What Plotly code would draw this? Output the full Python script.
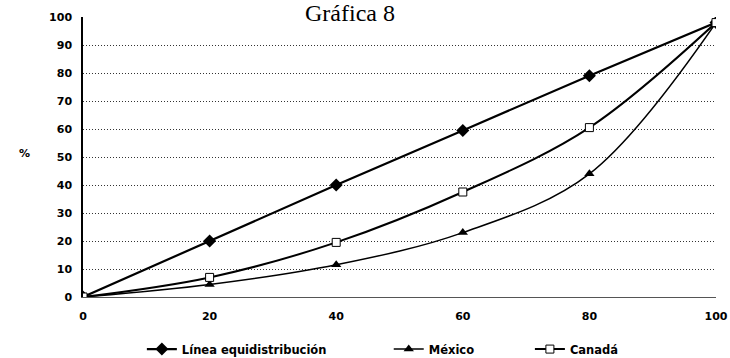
import plotly.graph_objects as go

x_vals = [0, 20, 40, 60, 80, 100]
linea = [0, 20, 40, 59.5, 79, 98]
mexico = [0, 4.5, 11.5, 23, 44, 98]
canada = [0, 7, 19.5, 37.5, 60.5, 98]
series_names = ["Línea equidistribución", "México", "Canadá"]
y_ticks = [0, 10, 20, 30, 40, 50, 60, 70, 80, 90, 100]
x_ticks = [0, 20, 40, 60, 80, 100]

fig = go.Figure()
fig.add_trace(go.Scatter(x=x_vals, y=linea, name=series_names[0], mode="lines+markers",
                         line=dict(color="black", width=2.2),
                         marker=dict(symbol="diamond", size=10, color="black"),
                         legend="legend"))
fig.add_trace(go.Scatter(x=x_vals, y=mexico, name=series_names[1], mode="lines+markers",
                         line=dict(color="black", width=1.5, shape="spline"),
                         marker=dict(symbol="triangle-up", size=9, color="black"),
                         legend="legend2"))
fig.add_trace(go.Scatter(x=x_vals, y=canada, name=series_names[2], mode="lines+markers",
                         line=dict(color="black", width=2, shape="spline"),
                         marker=dict(symbol="square", size=8, color="white",
                                     line=dict(color="black", width=1)),
                         legend="legend3"))

bold_font = "DejaVu Sans"
leg_font = dict(family=bold_font, size=11.5, color="black", weight="bold")
def leg(xp):
    return dict(orientation="h", x=xp, xanchor="left", y=-0.186, yanchor="middle",
                font=leg_font, bgcolor="rgba(0,0,0,0)")

fig.update_layout(
    width=730, height=358,
    margin=dict(l=83, r=14, t=17, b=61, autoexpand=False),
    paper_bgcolor="white", plot_bgcolor="white",
    title=dict(text="Gráfica 8", x=350 / 730, xref="container", xanchor="center",
               y=1 - 13 / 358, yref="container", yanchor="middle",
               font=dict(family="Liberation Serif", size=24, color="black")),
    font=dict(family=bold_font, color="black"),
    showlegend=True,
    legend=leg(0.093),
    legend2=leg(0.483),
    legend3=leg(0.706),
    xaxis=dict(range=[0, 100], tickvals=x_ticks, showgrid=False, zeroline=False,
               showline=True, linecolor="#555", linewidth=1,
               ticks="outside", ticklen=9, tickcolor="rgba(0,0,0,0)",
               tickfont=dict(family=bold_font, size=11, weight="bold")),
    yaxis=dict(range=[0, 100], tickvals=y_ticks, showgrid=True, gridcolor="#333",
               griddash="1px,2px", gridwidth=1, zeroline=False,
               showline=True, linecolor="black", linewidth=1.5,
               ticks="outside", ticklen=7, tickcolor="rgba(0,0,0,0)",
               tickfont=dict(family=bold_font, size=11, weight="bold")),
    annotations=[dict(text="%", x=(24 - 83) / 633, y=(297 - 153) / 280,
                      xref="paper", yref="paper",
                      showarrow=False, xanchor="center", yanchor="middle",
                      font=dict(family=bold_font, size=11, weight="bold", color="black"))],
)
fig.write_html("out.html")
